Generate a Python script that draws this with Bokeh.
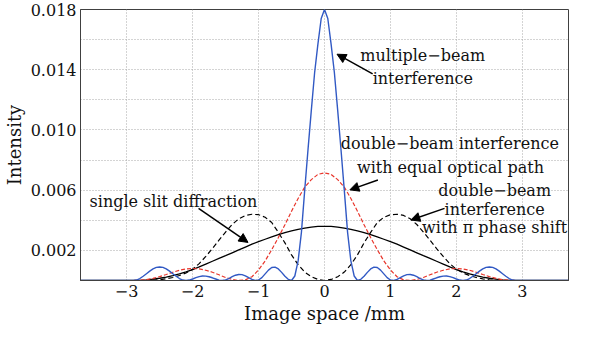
import numpy as np
from bokeh.plotting import figure
from bokeh.models import Range1d, FixedTicker, Arrow, NormalHead, Label
from bokeh.embed import file_html
from bokeh.resources import INLINE

# ---------------- data ----------------
# sampling grids (mm)
x_fine = np.round(np.linspace(-3.7, 3.7, 149), 3)   # step 0.05
x_coarse = np.round(np.linspace(-3.7, 3.7, 75), 3)  # step 0.1

# multiple-beam interference (blue), step 0.05
multi_beam = [
    0, 0, 0, 0, 0, 0, 0, 0, 0, 0, 0, 0, 0, 0, 0, 0,
    0.0, 0.00003, 0.00013, 0.00028, 0.00045, 0.00062, 0.00077, 0.00087, 0.00090,
    0.00087, 0.00077, 0.00062, 0.00045, 0.00028, 0.00013, 0.00003, 0.0,
    0.00003, 0.00010, 0.00019, 0.00026, 0.00030, 0.00029, 0.00025, 0.00018, 0.00010, 0.00002, 0.0,
    0.00004, 0.00013, 0.00025, 0.00035, 0.00040, 0.00039, 0.00031, 0.00019, 0.00007, 0.00001,
    0.00003, 0.00019, 0.00044, 0.00069, 0.00086, 0.00089, 0.00077, 0.00054, 0.00028, 0.00008, 0.0,
    0.0003, 0.0013, 0.0032, 0.0060, 0.0087, 0.0113, 0.0138, 0.0157, 0.0174,
    0.0180,
    0.0174, 0.0157, 0.0138, 0.0113, 0.0087, 0.0060, 0.0032, 0.0013, 0.0003,
    0.0, 0.00008, 0.00028, 0.00054, 0.00077, 0.00089, 0.00086, 0.00069, 0.00044, 0.00019, 0.00003,
    0.00001, 0.00007, 0.00019, 0.00031, 0.00039, 0.00040, 0.00035, 0.00025, 0.00013, 0.00004,
    0.0, 0.00002, 0.00010, 0.00018, 0.00025, 0.00029, 0.00030, 0.00026, 0.00019, 0.00010, 0.00003,
    0.0, 0.00003, 0.00013, 0.00028, 0.00045, 0.00062, 0.00077, 0.00087, 0.00090,
    0.00087, 0.00077, 0.00062, 0.00045, 0.00028, 0.00013, 0.00003, 0.0,
    0, 0, 0, 0, 0, 0, 0, 0, 0, 0, 0, 0, 0, 0, 0, 0,
]

# double-beam interference, equal optical path (red dashed), step 0.1
double_equal = [
    0, 0, 0, 0, 0, 0, 0, 0,
    0.0, 0.00002, 0.00006, 0.00014, 0.00026, 0.00040, 0.00055, 0.00068, 0.00077, 0.00080,
    0.00077, 0.00068, 0.00055, 0.00038, 0.00020, 0.00007, 0.0, 0.00004, 0.00025, 0.00070,
    0.00130, 0.00205, 0.00285, 0.00370, 0.00460, 0.00545, 0.00620, 0.00670, 0.00705,
    0.00715,
    0.00705, 0.00670, 0.00620, 0.00545, 0.00460, 0.00370, 0.00285, 0.00205, 0.00130,
    0.00070, 0.00025, 0.00004, 0.0, 0.00007, 0.00020, 0.00038, 0.00055, 0.00068, 0.00077,
    0.00080, 0.00077, 0.00068, 0.00055, 0.00040, 0.00026, 0.00014, 0.00006, 0.00002, 0.0,
    0, 0, 0, 0, 0, 0, 0, 0,
]

# double-beam interference with pi phase shift (black dashed), step 0.1
double_pi = [
    0, 0, 0, 0, 0, 0, 0, 0,
    0.0, 0.0, 0.0, 0.00002, 0.00005, 0.00011, 0.00020, 0.00033, 0.00050, 0.00075,
    0.00112, 0.00160, 0.00212, 0.00268, 0.00322, 0.00372, 0.00410, 0.00432, 0.00440, 0.00437,
    0.00420, 0.00385, 0.00320, 0.00250, 0.00170, 0.00105, 0.00056, 0.00025, 0.00007,
    0.0,
    0.00007, 0.00025, 0.00056, 0.00105, 0.00170, 0.00250, 0.00320, 0.00385, 0.00420,
    0.00437, 0.00440, 0.00432, 0.00410, 0.00372, 0.00322, 0.00268, 0.00212, 0.00160, 0.00112,
    0.00075, 0.00050, 0.00033, 0.00020, 0.00011, 0.00005, 0.00002, 0.0, 0.0, 0.0,
    0, 0, 0, 0, 0, 0, 0, 0,
]

# single slit diffraction (black solid), step 0.1
single_slit = [
    0, 0, 0, 0, 0, 0, 0, 0,
    0.0, 0.00001, 0.00004, 0.00009, 0.00015, 0.00023, 0.00033, 0.00044, 0.00057, 0.00072,
    0.00090, 0.00109, 0.00128, 0.00147, 0.00165, 0.00184, 0.00203, 0.00222, 0.00241, 0.00258,
    0.00274, 0.00290, 0.00305, 0.00318, 0.00330, 0.00340, 0.00348, 0.00355, 0.00359,
    0.00360,
    0.00359, 0.00355, 0.00348, 0.00340, 0.00330, 0.00318, 0.00305, 0.00290, 0.00274,
    0.00258, 0.00241, 0.00222, 0.00203, 0.00184, 0.00165, 0.00147, 0.00128, 0.00109, 0.00090,
    0.00072, 0.00057, 0.00044, 0.00033, 0.00023, 0.00015, 0.00009, 0.00004, 0.00001, 0.0,
    0, 0, 0, 0, 0, 0, 0, 0,
]

x_ticks = [-3, -2, -1, 0, 1, 2, 3]
x_tick_labels = ["\u22123", "\u22122", "\u22121", "0", "1", "2", "3"]
y_ticks = [0.002, 0.006, 0.010, 0.014, 0.018]
y_tick_labels = ["0.002", "0.006", "0.010", "0.014", "0.018"]
y_grid = [0.002, 0.004, 0.006, 0.008, 0.010, 0.012, 0.014, 0.016]

# ---------------- figure ----------------
FONT = "DejaVu Serif"
p = figure(width=576, height=326, output_backend="svg", toolbar_location=None,
           x_range=Range1d(-3.7, 3.7), y_range=Range1d(0, 0.018),
           min_border_left=79, min_border_right=8, min_border_top=9,
           min_border_bottom=46)
p.background_fill_color = "white"
p.outline_line_color = "#404040"
p.outline_line_width = 1

p.xaxis.ticker = FixedTicker(ticks=x_ticks)
p.xaxis.major_label_overrides = {t: l for t, l in zip(x_ticks, x_tick_labels)}
p.yaxis.ticker = FixedTicker(ticks=y_ticks)
p.yaxis.major_label_overrides = {t: l for t, l in zip(y_ticks, y_tick_labels)}
p.xgrid.ticker = FixedTicker(ticks=x_ticks)
p.ygrid.ticker = FixedTicker(ticks=y_grid)
for g in (p.xgrid, p.ygrid):
    g.grid_line_color = "#a8a8a8"
    g.grid_line_dash = "1 2"
    g.grid_line_width = 1

for ax in (p.xaxis, p.yaxis):
    ax.major_tick_in = 0
    ax.major_tick_out = 0
    ax.minor_tick_in = 0
    ax.minor_tick_out = 0
    ax.axis_line_color = "#404040"
    ax.major_label_text_font = FONT
    ax.major_label_text_font_size = "16px"
    ax.major_label_text_color = "#111111"
    ax.axis_label_text_font = FONT
    ax.axis_label_text_font_size = "18px"
    ax.axis_label_text_font_style = "normal"
    ax.axis_label_text_color = "#111111"

p.xaxis.axis_label = "Image space /mm"
p.yaxis.axis_label = "Intensity"
p.xaxis.major_label_standoff = 4
p.yaxis.major_label_standoff = 4
p.xaxis.axis_label_standoff = 3
p.yaxis.axis_label_standoff = 3

# curves
p.line(x_coarse, single_slit, line_color="black", line_width=1.3)
p.line(x_coarse, double_pi, line_color="black", line_width=1.2, line_dash="5 3")
p.line(x_coarse, double_equal, line_color="#e8352b", line_width=1.2, line_dash="4 2")
p.line(x_fine, multi_beam, line_color="#3159c4", line_width=1.4)

# annotations
def add_label(x, y, text):
    p.add_layout(Label(x=x, y=y, text=text, text_align="center", text_baseline="middle",
                       text_font=FONT, text_font_size="16px", text_color="#111111"))

add_label(1.49, 0.01496, "multiple\u2212beam")
add_label(1.49, 0.0134, "interference")
add_label(1.90, 0.00907, "double\u2212beam interference")
add_label(1.91, 0.00751, "with equal optical path")
add_label(2.58, 0.00596, "double\u2212beam")
add_label(2.58, 0.00473, "interference")
add_label(2.58, 0.0035, "with \u03c0 phase shift")
add_label(-2.29, 0.00525, "single slit diffraction")

def add_arrow(x0, y0, x1, y1):
    p.add_layout(Arrow(end=NormalHead(size=9, fill_color="black", line_color="black"),
                       x_start=x0, y_start=y0, x_end=x1, y_end=y1,
                       line_color="black", line_width=1.5))

add_arrow(0.73, 0.01373, 0.19, 0.01503)
add_arrow(0.81, 0.00667, 0.385, 0.00602)
add_arrow(1.82, 0.00479, 1.31, 0.00402)
add_arrow(-1.91, 0.00479, -1.16, 0.00253)

open("out.html", "w").write(file_html(p, INLINE))
